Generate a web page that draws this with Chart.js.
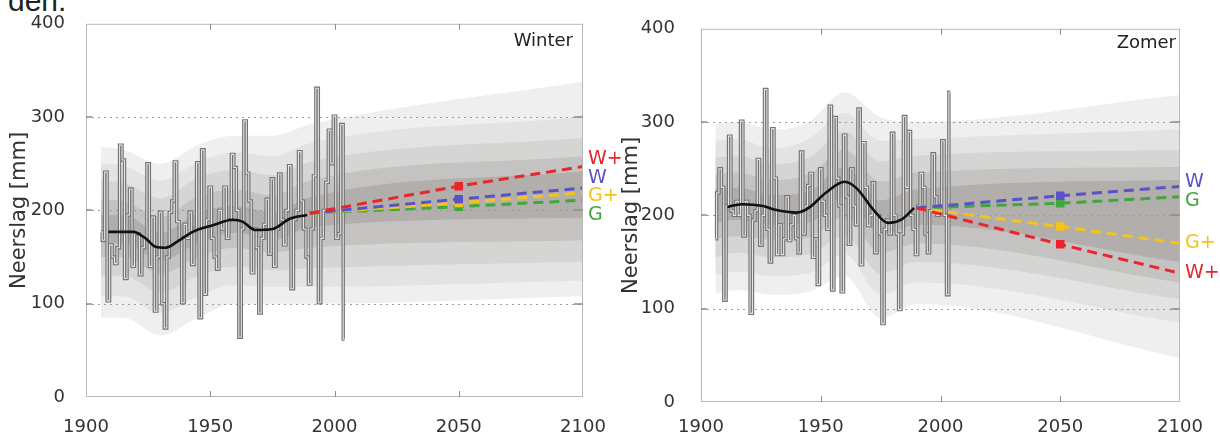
<!DOCTYPE html>
<html lang="nl">
<head>
<meta charset="UTF-8">
<title>Neerslag winter en zomer</title>
<script src="https://cdn.jsdelivr.net/npm/chart.js"></script>
<style>
  body { margin: 0; width: 1220px; height: 438px; overflow: hidden; background: #fff; position: relative; }
  .intro { position: absolute; left: 8px; top: -14px; font: 30px/30px "Liberation Sans", Arial, sans-serif; color: #222; }
  canvas { position: absolute; top: 0; }
  #winter { left: 0; }
  #zomer { left: 610px; }
</style>
</head>
<body>
<div class="intro">den.</div>
<canvas id="winter" width="630" height="438"></canvas>
<canvas id="zomer" width="610" height="438"></canvas>
<script>
// yearly precipitation (mm), one value per year starting at firstYear
const firstYear = 1906;
const winterYearly = [177,168,241,103,163,150,143,160,270,254,127,195,223,140,175,175,131,160,170,250,
  140,193,92,150,198,100,74,150,198,210,252,188,170,101,185,170,198,142,180,251,
  85,265,110,190,225,170,150,137,200,180,225,170,190,260,246,200,64,180,296,240,
  210,133,180,160,90,170,185,212,153,234,140,180,239,190,163,200,248,116,190,200,
  263,210,180,150,121,180,237,331,101,170,200,230,286,250,301,170,175,292,62];
const summerYearly = [175,224,250,230,109,210,285,205,200,215,200,301,178,215,200,95,195,205,260,168,
  200,335,185,150,293,240,158,190,158,175,220,173,190,200,175,160,268,180,210,232,
  245,155,175,126,250,215,200,185,317,120,305,240,210,118,286,220,169,250,210,190,
  314,147,278,230,189,200,235,160,200,180,84,185,195,180,288,200,180,99,180,306,
  230,290,200,185,158,210,245,230,180,160,205,266,220,200,210,280,200,115,332];

// smoothed trend (black line)
const winterTrendYears = [1909, 1919, 1924, 1928, 1932, 1937, 1943, 1951, 1959, 1963, 1968, 1975, 1982, 1989];
const winterTrend = [177, 177, 170, 161, 160, 167, 177, 184, 190, 188, 179, 180, 191, 195];
const summerTrendYears = [1911, 1917, 1926, 1931, 1940, 1945, 1952, 1960, 1965, 1972, 1978, 1984, 1989];
const summerTrend = [209, 212, 210, 206, 203, 208, 224, 236, 229, 206, 192, 196, 208];

// climate scenarios
const scenarioYears = [1990, 2050, 2100];
const scenarioNames = ['W+', 'W', 'G+', 'G'];
const scenarioColors = ['#e8262b', '#5a52c9', '#f6c21c', '#3ea83f'];
const winterScenarios = [[197, 226, 247], [197, 212, 224], [197, 208, 219], [197, 204, 211]];
const summerScenarios = [[208, 169, 138], [208, 221, 231], [208, 188, 170], [208, 213, 220]];

// uncertainty bands, outer -> inner
const bandYears = [1906, 1915, 1930, 1945, 1960, 1975, 1990, 2100];
const bandColors = ['#efefef', '#e3e3e3', '#d5d5d4', '#c5c3c2', '#b1aeac'];
const winterBandUpper = [
  [268, 265, 250, 270, 280, 280, 292, 338],
  [250, 248, 232, 252, 262, 258, 272, 300],
  [232, 230, 213, 235, 243, 238, 252, 278],
  [212, 210, 193, 215, 222, 216, 232, 258],
  [195, 195, 176, 197, 205, 198, 214, 242]];
const winterBandLower = [
  [85, 85, 66, 85, 100, 100, 100, 108],
  [108, 108, 90, 108, 120, 118, 118, 125],
  [130, 130, 112, 130, 140, 136, 138, 145],
  [150, 150, 132, 150, 160, 155, 160, 168],
  [165, 165, 146, 165, 176, 168, 182, 192]];
const summerBandUpper = [
  [298, 300, 292, 300, 332, 305, 300, 329],
  [280, 282, 272, 282, 310, 280, 282, 292],
  [262, 264, 255, 262, 290, 258, 264, 270],
  [244, 246, 238, 244, 270, 236, 246, 252],
  [228, 230, 222, 226, 252, 216, 228, 238]];
const summerBandLower = [
  [116, 120, 115, 118, 135, 90, 105, 47],
  [136, 140, 135, 138, 158, 115, 128, 85],
  [155, 160, 155, 158, 178, 138, 150, 110],
  [175, 178, 174, 176, 198, 160, 170, 128],
  [192, 195, 190, 192, 220, 180, 190, 150]];

const yTicks = [0, 100, 200, 300, 400];
const xTicks = [1900, 1950, 2000, 2050, 2100];

const FONT = '"DejaVu Sans", Verdana, sans-serif';

const toPoints = (xs, ys) => xs.map((x, i) => ({ x: x, y: ys[i] }));

// push scenario labels apart so they don't overlap
function spreadLabels(items, gap) {
  let groups = items.slice().sort((a, b) => a.y - b.y).map(it => ({ items: [it] }));
  const place = g => {
    const mean = g.items.reduce((s, it) => s + it.y, 0) / g.items.length;
    g.top = mean - (g.items.length - 1) * gap / 2;
  };
  groups.forEach(place);
  let merged = true;
  while (merged) {
    merged = false;
    for (let i = 0; i < groups.length - 1; i++) {
      const a = groups[i], b = groups[i + 1];
      if (b.top < a.top + a.items.length * gap) {
        a.items = a.items.concat(b.items);
        place(a);
        groups.splice(i + 1, 1);
        merged = true;
        break;
      }
    }
  }
  groups.forEach(g => g.items.forEach((it, k) => { it.ly = g.top + k * gap; }));
  return items;
}

const panelDecor = {
  id: 'panelDecor',
  beforeDatasetDraw(chart, args, opts) {
    if (args.index !== opts.gridBefore) return;
    const { ctx, chartArea: a, scales: { y } } = chart;
    ctx.save();
    ctx.strokeStyle = '#9c9c9c';
    ctx.lineWidth = 1;
    ctx.setLineDash([2, 4]);
    yTicks.slice(1, -1).forEach(v => {
      const py = Math.round(y.getPixelForValue(v)) + 0.5;
      ctx.beginPath();
      ctx.moveTo(a.left, py);
      ctx.lineTo(a.right, py);
      ctx.stroke();
    });
    ctx.restore();
  },
  afterDraw(chart, args, opts) {
    const { ctx, chartArea: a, scales: { x, y } } = chart;
    ctx.save();
    ctx.strokeStyle = '#b8b8b8';
    ctx.lineWidth = 1;
    ctx.strokeRect(a.left + 0.5, a.top + 0.5, a.right - a.left - 1, a.bottom - a.top - 1);

    // small inner tick marks
    ctx.strokeStyle = '#8c8c8c';
    xTicks.slice(1, -1).forEach(v => {
      const px = Math.round(x.getPixelForValue(v)) + 0.5;
      ctx.beginPath();
      ctx.moveTo(px, a.top); ctx.lineTo(px, a.top + 6);
      ctx.moveTo(px, a.bottom); ctx.lineTo(px, a.bottom - 6);
      ctx.stroke();
    });
    ctx.lineWidth = 1.5;
    yTicks.slice(1, -1).forEach(v => {
      const py = Math.round(y.getPixelForValue(v));
      ctx.beginPath();
      ctx.moveTo(a.right, py); ctx.lineTo(a.right - 9, py);
      ctx.moveTo(a.left, py); ctx.lineTo(a.left + 6, py);
      ctx.stroke();
    });

    // season name
    ctx.font = '18px ' + FONT;
    ctx.fillStyle = '#222';
    ctx.textAlign = 'right';
    ctx.textBaseline = 'middle';
    ctx.fillText(opts.title, a.right - opts.titleInset, a.top + opts.titleDrop);

    // scenario names at the right end
    const items = opts.scenarios.map((vals, i) => ({
      text: scenarioNames[i], color: scenarioColors[i],
      y: y.getPixelForValue(vals[vals.length - 1])
    }));
    spreadLabels(items, 18.5);
    ctx.font = '19px ' + FONT;
    ctx.textAlign = 'left';
    items.forEach(it => {
      ctx.fillStyle = it.color;
      ctx.fillText(it.text, a.right + 5, it.ly);
    });
    ctx.restore();
  }
};

function makeChart(id, cfg) {
  const datasets = [];
  cfg.scenarios.forEach((vals, i) => {
    datasets.push({
      data: toPoints(scenarioYears, vals),
      borderColor: scenarioColors[i],
      backgroundColor: scenarioColors[i],
      borderWidth: 3,
      borderDash: [10, 6],
      pointStyle: 'rect',
      pointRadius: ctx => (ctx.raw && ctx.raw.x === 2050 ? 6 : 0),
      pointBorderWidth: 0,
      fill: false
    });
  });
  datasets.push({
    data: toPoints(cfg.trendYears, cfg.trend),
    borderColor: '#111',
    borderWidth: 2.6,
    cubicInterpolationMode: 'monotone',
    pointRadius: 0,
    fill: false
  });
  const yearly = cfg.yearly.map((v, i) => ({ x: firstYear + i, y: v }));
  datasets.push({ data: yearly, stepped: 'middle', borderColor: '#e6e6e6', borderWidth: 1.1, pointRadius: 0, fill: false });
  datasets.push({ data: yearly, stepped: 'middle', borderColor: '#747474', borderWidth: 3.4, pointRadius: 0, fill: false });
  const gridBefore = datasets.length - 1;
  // inner band first in the list so the outer one is painted underneath
  for (let b = bandColors.length - 1; b >= 0; b--) {
    datasets.push({
      data: toPoints(bandYears, cfg.bandLower[b]),
      borderColor: 'rgba(0,0,0,0)', borderWidth: 0, pointRadius: 0,
      cubicInterpolationMode: 'monotone', fill: false
    });
    datasets.push({
      data: toPoints(bandYears, cfg.bandUpper[b]),
      borderColor: 'rgba(0,0,0,0)', borderWidth: 0, pointRadius: 0,
      cubicInterpolationMode: 'monotone',
      backgroundColor: bandColors[b], fill: '-1'
    });
  }

  return new Chart(document.getElementById(id), {
    type: 'line',
    data: { datasets: datasets },
    plugins: [panelDecor],
    options: {
      responsive: false,
      animation: false,
      events: [],
      layout: { padding: cfg.padding },
      plugins: {
        legend: { display: false },
        tooltip: { enabled: false },
        panelDecor: {
          gridBefore: gridBefore,
          title: cfg.title,
          titleInset: cfg.titleInset,
          titleDrop: cfg.titleDrop,
          scenarios: cfg.scenarios
        }
      },
      scales: {
        x: {
          type: 'linear', min: 1900, max: 2100,
          afterFit: s => { s.height = cfg.xHeight; },
          grid: { display: false },
          border: { display: false },
          ticks: {
            stepSize: 50, maxRotation: 0, padding: cfg.xPad,
            color: '#333', font: { family: FONT, size: 18 },
            callback: v => String(v)
          }
        },
        y: {
          min: 0, max: 400,
          afterFit: s => { s.width = cfg.yWidth; },
          grid: { display: false },
          border: { display: false },
          ticks: { stepSize: 100, padding: cfg.yPad, color: '#333', font: { family: FONT, size: 18 } },
          title: {
            display: true, text: 'Neerslag [mm]', color: '#333',
            font: { family: FONT, size: 21 }, padding: { top: cfg.titlePad, bottom: 0 }
          }
        }
      }
    }
  });
}

makeChart('winter', {
  title: 'Winter', titleInset: 10, titleDrop: 18,
  yearly: winterYearly, trendYears: winterTrendYears, trend: winterTrend,
  scenarios: winterScenarios, bandUpper: winterBandUpper, bandLower: winterBandLower,
  padding: { top: 20, right: 47, left: 0, bottom: 0 },
  xHeight: 41, yWidth: 86, xPad: 12, yPad: 13, titlePad: 7
});

makeChart('zomer', {
  title: 'Zomer', titleInset: 4, titleDrop: 15,
  yearly: summerYearly, trendYears: summerTrendYears, trend: summerTrend,
  scenarios: summerScenarios, bandUpper: summerBandUpper, bandLower: summerBandLower,
  padding: { top: 23, right: 40, left: 0, bottom: 0 },
  xHeight: 36, yWidth: 91, xPad: 7, yPad: 18, titlePad: 9
});
</script>
</body>
</html>
